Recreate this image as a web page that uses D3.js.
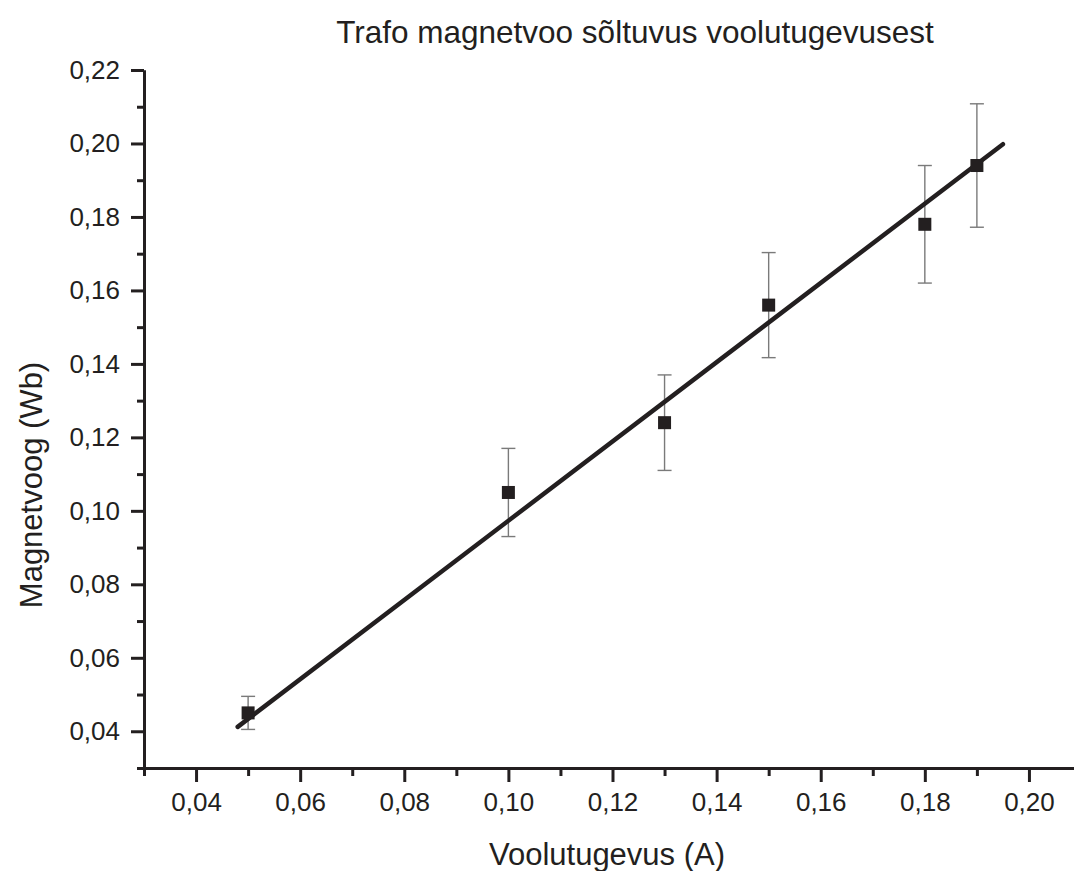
<!DOCTYPE html>
<html>
<head>
<meta charset="utf-8">
<script src="https://cdn.jsdelivr.net/npm/d3@7"></script>
<style>
    body { margin: 0; background: #fff; }
    text { font-family: "Liberation Sans", Arial, sans-serif; fill: #231f20; }
</style>
</head>
<body>
<div id="chart"></div>
<script>
// Measured values (current in A, flux in Wb)
const current = [0.05, 0.10, 0.13, 0.15, 0.18, 0.19];
const flux = [0.045, 0.105, 0.124, 0.156, 0.178, 0.194];
const fluxErr = [0.0045, 0.012, 0.013, 0.0143, 0.016, 0.0168];

const fitCurrent = [0.048, 0.195];
const fitFlux = [0.0412, 0.1998];

const xMajor = [0.04, 0.06, 0.08, 0.10, 0.12, 0.14, 0.16, 0.18, 0.20];
const xMinor = [0.03, 0.05, 0.07, 0.09, 0.11, 0.13, 0.15, 0.17, 0.19, 0.21];
const yMajor = [0.04, 0.06, 0.08, 0.10, 0.12, 0.14, 0.16, 0.18, 0.20, 0.22];
const yMinor = [0.03, 0.05, 0.07, 0.09, 0.11, 0.13, 0.15, 0.17, 0.19, 0.21];

const title = "Trafo magnetvoo sõltuvus voolutugevusest";
const xLabel = "Voolutugevus (A)";
const yLabel = "Magnetvoog (Wb)";

const width = 1074, height = 871;
const ink = "#231f20";

const svg = d3.select("#chart")
    .append("svg")
    .attr("width", width)
    .attr("height", height);

const xScale = d3.scaleLinear().domain([0.03, 0.21]).range([144, 1081]);
const yScale = d3.scaleLinear().domain([0.03, 0.22]).range([768, 70]);

const fmt = v => d3.format(".2f")(v).replace(".", ",");

// minor ticks first, then major axes on top
const xMinorAxis = svg.append("g")
    .attr("transform", `translate(0, ${yScale(0.03)})`)
    .call(d3.axisBottom(xScale).tickValues(xMinor).tickSize(8).tickSizeOuter(0).tickFormat(""));
const yMinorAxis = svg.append("g")
    .attr("transform", `translate(${xScale(0.03)}, 0)`)
    .call(d3.axisLeft(yScale).tickValues(yMinor).tickSize(7).tickSizeOuter(0).tickFormat(""));

const xAxis = svg.append("g")
    .attr("transform", `translate(0, ${yScale(0.03)})`)
    .call(d3.axisBottom(xScale).tickValues(xMajor).tickSize(14).tickSizeOuter(0).tickPadding(11).tickFormat(fmt));
const yAxis = svg.append("g")
    .attr("transform", `translate(${xScale(0.03)}, 0)`)
    .call(d3.axisLeft(yScale).tickValues(yMajor).tickSize(13).tickSizeOuter(0).tickPadding(11).tickFormat(fmt));

[xMinorAxis, yMinorAxis, xAxis, yAxis].forEach(g => {
    g.selectAll("line").attr("stroke", ink).attr("stroke-width", 3);
    g.select(".domain").attr("stroke", ink).attr("stroke-width", 3);
});
[xAxis, yAxis].forEach(g => {
    g.selectAll("text")
        .attr("fill", ink)
        .style("font-size", "26px")
        .style("font-family", "'Liberation Sans', Arial, sans-serif");
});
xAxis.selectAll("text").attr("dy", "0.71em");

// Error bars
const bars = svg.append("g");
current.forEach((c, i) => {
    const x = xScale(c);
    const y0 = yScale(flux[i] - fluxErr[i]);
    const y1 = yScale(flux[i] + fluxErr[i]);
    bars.append("line")
        .attr("x1", x).attr("x2", x).attr("y1", y0).attr("y2", y1)
        .attr("stroke", "#7a7a7a").attr("stroke-width", 1.4);
    [y0, y1].forEach(y => {
        bars.append("line")
            .attr("x1", x - 7).attr("x2", x + 7).attr("y1", y).attr("y2", y)
            .attr("stroke", "#7a7a7a").attr("stroke-width", 1.4);
    });
});

// Fit line
svg.append("line")
    .attr("x1", xScale(fitCurrent[0])).attr("y1", yScale(fitFlux[0]))
    .attr("x2", xScale(fitCurrent[1])).attr("y2", yScale(fitFlux[1]))
    .attr("stroke", ink)
    .attr("stroke-width", 4.5)
    .attr("stroke-linecap", "round");

// Square markers
svg.append("g")
    .selectAll("rect")
    .data(current)
    .join("rect")
    .attr("x", d => xScale(d) - 6.5)
    .attr("y", (d, i) => yScale(flux[i]) - 6.5)
    .attr("width", 13)
    .attr("height", 13)
    .attr("fill", ink);

// Labels
svg.append("text")
    .text(title)
    .attr("x", 635)
    .attr("y", 43)
    .attr("text-anchor", "middle")
    .style("font-size", "31.5px");

svg.append("text")
    .text(xLabel)
    .attr("x", 607)
    .attr("y", 865)
    .attr("text-anchor", "middle")
    .style("font-size", "31px");

svg.append("text")
    .text(yLabel)
    .attr("transform", "translate(42, 485) rotate(-90)")
    .attr("text-anchor", "middle")
    .style("font-size", "31px");
</script>
</body>
</html>
